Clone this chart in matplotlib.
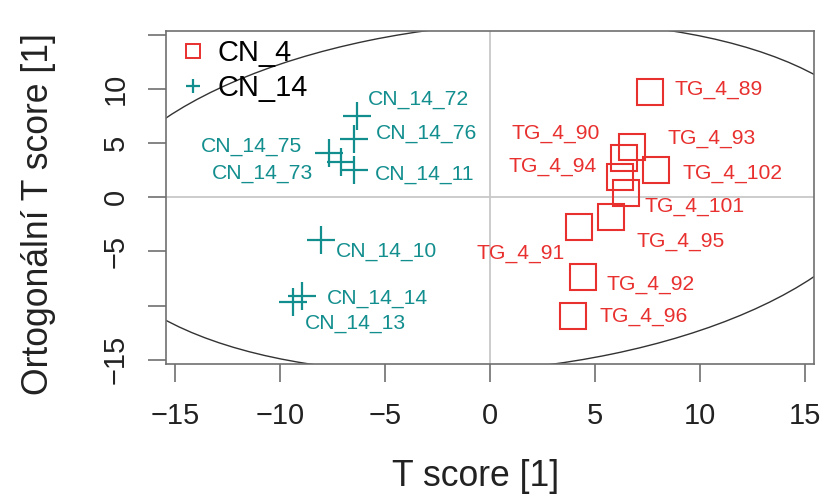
import numpy as np
import matplotlib.pyplot as plt
from matplotlib.patches import Ellipse
from matplotlib.lines import Line2D

plt.rcParams['font.family'] = ['Liberation Sans', 'DejaVu Sans']

# scores
cn_names = ['CN_14_72', 'CN_14_76', 'CN_14_75', 'CN_14_73', 'CN_14_11',
            'CN_14_10', 'CN_14_14', 'CN_14_13']
cn_t = [-6.35, -6.46, -7.67, -7.11, -6.46, -8.06, -8.97, -9.40]
cn_to = [7.55, 5.40, 4.13, 3.30, 2.53, -3.94, -9.11, -9.64]

tg_names = ['TG_4_89', 'TG_4_93', 'TG_4_90', 'TG_4_102', 'TG_4_94',
            'TG_4_101', 'TG_4_95', 'TG_4_91', 'TG_4_92', 'TG_4_96']
tg_t = [7.62, 6.78, 6.38, 7.90, 6.19, 6.46, 5.78, 4.25, 4.44, 3.97]
tg_to = [9.71, 4.66, 3.64, 2.56, 1.89, 0.38, -1.81, -2.74, -7.38, -10.96]

legend_labels = ['CN_4', 'CN_14']
tick_vals = [-15, -10, -5, 0, 5, 10, 15]
ytick_text = ['\u221215', '', '\u22125', '0', '5', '10', '']

# hotelling ellipse (semi axes, angle in degrees)
ell_a, ell_b, ell_angle = 19.5, 15.6, 21.8

# label offsets in pixels (dx, dy) and alignment
cn_off = [(11, 16, 'left'), (22, 5, 'left'), (-27, 6, 'right'), (-28, -12, 'right'),
          (21, -5, 'left'), (15, -12, 'left'), (25, -3, 'left'), (12, -22, 'left')]
tg_off = [(25, 3, 'left'), (35, 8, 'left'), (-24, 24, 'right'), (27, -4, 'left'),
          (-23, 10, 'right'), (19, -13, 'left'), (25, -25, 'left'), (-14, -26, 'right'),
          (23, -7, 'left'), (26, -1, 'left')]

red = '#E8302F'
teal = '#138E8E'

fig = plt.figure(figsize=(8.22, 4.99), dpi=100)
ax = fig.add_axes([0.2019, 0.2705, 0.7883, 0.668])

ax.axhline(0, color='#c8c8c8', lw=1.3, zorder=0)
ax.axvline(0, color='#c8c8c8', lw=1.3, zorder=0)

ell = Ellipse((0, 0), 2 * ell_a, 2 * ell_b, angle=ell_angle, fill=False,
              edgecolor='#333333', lw=1.0, zorder=1)
ax.add_patch(ell)

ax.plot(tg_t, tg_to, ls='none', marker='s', ms=19.2, mfc='none', mec=red, mew=1.5, zorder=3)
ax.plot(cn_t, cn_to, ls='none', marker='+', ms=19.5, mec=teal, mew=1.6, zorder=3)

for name, x, y, (dx, dy, ha) in zip(cn_names, cn_t, cn_to, cn_off):
    ax.annotate(name, (x, y), xytext=(dx, dy), textcoords='offset pixels',
                ha=ha, va='center', color=teal, fontsize=15.2)
for name, x, y, (dx, dy, ha) in zip(tg_names, tg_t, tg_to, tg_off):
    ax.annotate(name, (x, y), xytext=(dx, dy), textcoords='offset pixels',
                ha=ha, va='center', color=red, fontsize=15.2)

ax.set_xlim(-15.43, 15.43)
ax.set_ylim(-15.4, 15.4)
ax.set_xticks(tick_vals)
ax.set_xticklabels(['\u2212' + str(-v) if v < 0 else str(v) for v in tick_vals])
ax.set_yticks(tick_vals)
ax.set_yticklabels(ytick_text, rotation=90, va='center')

for s in ax.spines.values():
    s.set_color('#707070')
    s.set_linewidth(1.2)
ax.tick_params(axis='both', colors='#707070', width=1.2, length=13,
               labelsize=20.9, labelcolor='#222222')
ax.tick_params(axis='x', pad=14)
ax.tick_params(axis='y', pad=13)

ax.set_xlabel('T score [1]', fontsize=25.6, color='#222222')
ax.set_ylabel('Ortogonální T score [1]', fontsize=25.6, color='#222222')
ax.xaxis.set_label_coords(0.478, -0.285)
ax.yaxis.set_label_coords(-0.17, 0.45)

handles = [Line2D([], [], ls='none', marker='s', ms=9.5, mfc='none', mec=red, mew=1.4),
           Line2D([], [], ls='none', marker='+', ms=10, mec=teal, mew=1.6)]
ax.legend(handles, legend_labels, loc='upper left', bbox_to_anchor=(0.013, 0.996),
          frameon=False, fontsize=20.9, handlelength=0.8, handletextpad=0.45,
          labelspacing=0.22, borderaxespad=0.05, borderpad=0.2)

fig.savefig('out.png', dpi=100)
